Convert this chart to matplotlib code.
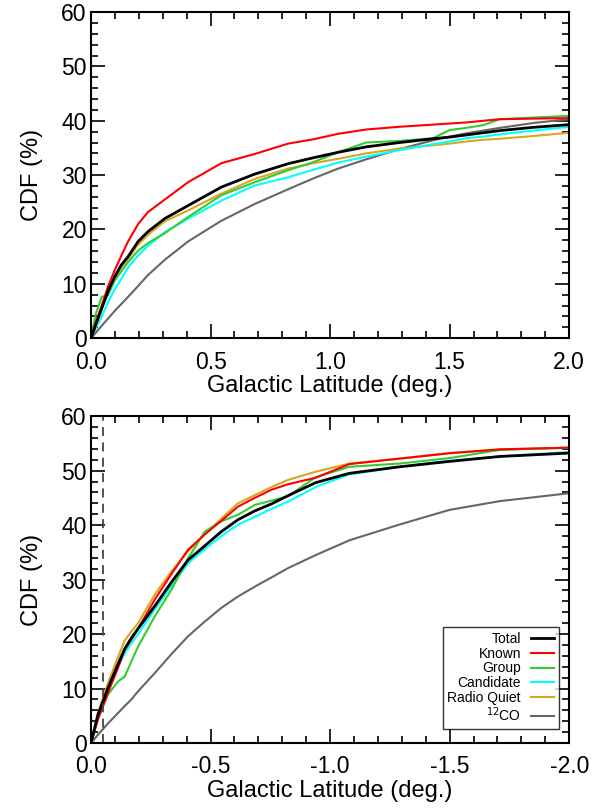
import numpy as np
import matplotlib
matplotlib.use("Agg")
import matplotlib.pyplot as plt
from matplotlib.ticker import MultipleLocator

plt.rcParams['font.family'] = ['Liberation Sans', 'DejaVu Sans']

# top panel: positive latitude (deg) and CDF (%)
lat_top = [0, 0.02, 0.045, 0.071, 0.099, 0.127, 0.155, 0.197, 0.238, 0.308, 0.406, 0.545, 0.685,
           0.824, 0.93, 1.033, 1.15, 1.29, 1.43, 1.50, 1.57, 1.64, 1.71, 1.85, 2.0]
total_top = [0, 2.5, 5.5, 8.6, 11.3, 13.5, 15.0, 17.8, 19.6, 22.0, 24.4, 27.8, 30.2,
             32.1, 33.2, 34.2, 35.2, 36.0, 36.7, 37.0, 37.4, 37.8, 38.2, 38.8, 39.3]
known_top = [0, 3.0, 6.0, 9.5, 12.5, 15.2, 17.8, 21.0, 23.2, 25.5, 28.7, 32.2, 33.9,
             35.8, 36.6, 37.6, 38.4, 38.9, 39.3, 39.5, 39.7, 40.0, 40.3, 40.4, 40.5]
group_top = [0, 4.5, 7.6, 7.9, 10.6, 12.3, 14.0, 16.1, 17.5, 19.3, 22.3, 26.3, 28.7,
             30.9, 32.4, 34.2, 36.0, 36.3, 36.8, 38.3, 38.7, 39.2, 40.3, 40.6, 40.9]
cand_top = [0, 1.8, 4.0, 6.6, 9.0, 10.9, 13.0, 15.2, 17.0, 19.5, 22.0, 25.3, 28.1,
            29.6, 31.0, 32.3, 33.4, 34.6, 35.7, 36.2, 36.8, 37.1, 37.5, 38.2, 38.9]
rq_top = [0, 2.5, 5.5, 8.5, 11.0, 13.0, 14.6, 17.2, 19.0, 21.5, 23.5, 26.6, 29.3,
          31.2, 32.2, 33.0, 34.0, 34.9, 35.5, 35.8, 36.2, 36.5, 36.7, 37.2, 37.8]
co_top = [0, 1.0, 2.3, 3.6, 5.0, 6.3, 7.6, 9.6, 11.6, 14.4, 17.8, 21.6, 24.7,
          27.4, 29.4, 31.2, 32.9, 34.8, 36.4, 37.1, 37.7, 38.2, 38.7, 39.6, 40.3]

# bottom panel: negative latitude (deg) and CDF (%)
lat_bot = [0, -0.029, -0.071, -0.113, -0.141, -0.169, -0.197, -0.266, -0.336, -0.406, -0.476,
           -0.545, -0.615, -0.685, -0.755, -0.824, -0.94, -1.08, -1.29, -1.50, -1.71, -1.99]
total_bot = [0, 5.2, 10.1, 14.5, 17.3, 19.3, 21.0, 25.1, 29.5, 33.6, 36.2,
             38.8, 41.0, 42.6, 43.9, 45.4, 47.8, 49.5, 50.7, 51.7, 52.6, 53.2]
known_bot = [0, 4.3, 9.2, 13.8, 17.2, 19.0, 21.0, 26.3, 31.0, 35.5, 38.3,
             40.8, 43.4, 45.0, 46.5, 47.5, 48.7, 51.2, 52.2, 53.2, 53.9, 54.2]
group_bot = [0, 4.6, 8.9, 11.3, 12.2, 15.0, 17.7, 23.2, 28.1, 33.9, 38.8,
             40.7, 41.9, 43.7, 44.5, 45.3, 48.8, 50.7, 51.3, 52.3, 53.8, 54.2]
cand_bot = [0, 5.2, 9.8, 14.0, 16.5, 18.3, 20.0, 24.5, 28.8, 33.0, 35.6,
            38.0, 40.1, 41.5, 43.0, 44.3, 47.0, 49.3, 50.7, 51.8, 52.6, 53.4]
rq_bot = [0, 5.5, 11.0, 15.8, 18.8, 20.5, 22.0, 27.2, 31.5, 35.2, 38.3,
          41.2, 44.0, 45.5, 47.0, 48.3, 49.8, 51.3, 52.2, 53.2, 53.9, 54.2]
co_bot = [0, 1.5, 3.6, 5.5, 6.8, 8.0, 9.5, 12.8, 16.3, 19.6, 22.3,
          24.8, 26.9, 28.7, 30.4, 32.1, 34.5, 37.2, 40.1, 42.8, 44.4, 45.8]

labels = ['Total', 'Known', 'Group', 'Candidate', 'Radio Quiet', r'$^{12}$CO']
colors = ['black', 'red', '#33cc33', '#00ffff', '#daa520', '#666666']
widths = [2.0, 1.5, 1.5, 1.5, 1.5, 1.5]

fig = plt.figure(figsize=(6.0, 8.09), dpi=100)
ax1 = fig.add_axes([0.1517, 0.582, 0.797, 0.403])
ax2 = fig.add_axes([0.1517, 0.0816, 0.797, 0.404])

top_series = [total_top, known_top, group_top, cand_top, rq_top, co_top]
bot_series = [total_bot, known_bot, group_bot, cand_bot, rq_bot, co_bot]

# draw CO first so the others sit on top
order = [5, 4, 3, 2, 1, 0]
for i in order:
    ax1.plot(lat_top, top_series[i], color=colors[i], lw=widths[i])
handles = {}
for i in order:
    h, = ax2.plot(lat_bot, bot_series[i], color=colors[i], lw=widths[i], label=labels[i])
    handles[i] = h

ax2.axvline(-0.05, color='#444444', ls=(0, (5, 3.5)), lw=1.3)

ax1.set_xlim(0, 2.0)
ax2.set_xlim(0, -2.0)
for ax in (ax1, ax2):
    ax.set_ylim(0, 60)
    ax.xaxis.set_major_locator(MultipleLocator(0.5))
    ax.xaxis.set_minor_locator(MultipleLocator(0.1))
    ax.yaxis.set_major_locator(MultipleLocator(10))
    ax.yaxis.set_minor_locator(MultipleLocator(2))
    ax.tick_params(which='both', direction='in', top=True, right=True, labelsize=16.5, width=1.2)
    ax.tick_params(which='major', length=10)
    ax.tick_params(which='minor', length=5)
    ax.tick_params(axis='x', pad=9)
    ax.tick_params(axis='y', pad=3)
    for s in ax.spines.values():
        s.set_linewidth(1.5)
    ax.set_ylabel('CDF (%)', fontsize=17)
    ax.set_xlabel('Galactic Latitude (deg.)', fontsize=17)
    ax.yaxis.set_label_coords(-0.10, 0.5)
    ax.xaxis.set_label_coords(0.5, -0.112)

ax2.xaxis.set_major_formatter(plt.FuncFormatter(lambda v, p: f"{v:.1f}" if abs(v) > 1e-9 else "0.0"))

leg = ax2.legend([handles[i] for i in range(6)], labels, loc='lower right',
                 bbox_to_anchor=(0.979, 0.043), borderaxespad=0,
                 markerfirst=False, fontsize=10, frameon=True, fancybox=False,
                 edgecolor='black', handlelength=1.7, borderpad=0.35,
                 labelspacing=0.05, handletextpad=0.7)
leg.get_frame().set_linewidth(1.0)

fig.savefig('out.png', dpi=100)
